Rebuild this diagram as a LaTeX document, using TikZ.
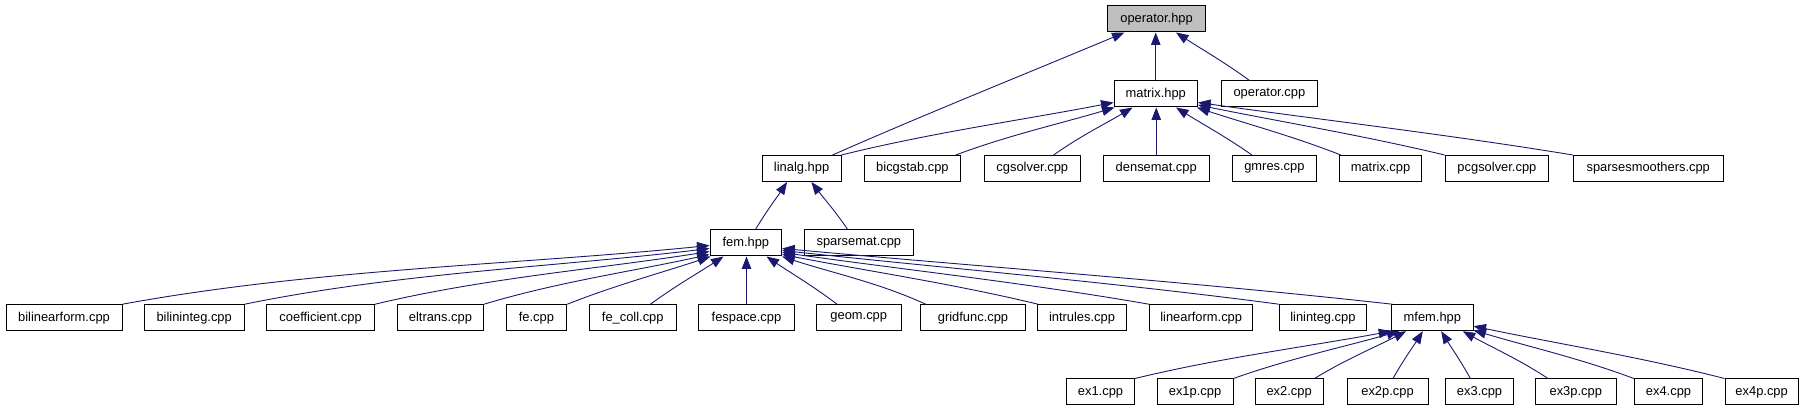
\documentclass[tikz,border=0pt]{standalone}
\usepackage{fontspec}
\setmainfont{Liberation Sans}
\usetikzlibrary{arrows.meta,calc}
\definecolor{edgeblue}{RGB}{25,25,112}
\definecolor{boxgray}{RGB}{191,191,191}
\newcommand{\depedge}[3][0]{%
  \path (#2) coordinate (tmpS) (#3) coordinate (tmpE);
  \draw[depline] (tmpS) .. controls ($(tmpS)!0.33!(tmpE)+(0,-#1)$) and ($(tmpS)!0.67!(tmpE)$) .. (tmpE);}
\begin{document}
\begin{tikzpicture}[x=1pt,y=-1pt,
  box/.style={draw=black, line width=1pt, fill=white, minimum height=26pt, inner sep=0pt,
    font=\fontsize{12.9}{15}\selectfont},
  depline/.style={draw=edgeblue, line width=0.9pt, -{Triangle[length=12.5pt,width=9.5pt]}}]
\useasboundingbox (0,0) rectangle (1805,411);
\fill[white] (0,0) rectangle (1805,411);
% row 1
\node[box, fill=boxgray, minimum width=98.2pt] (ophpp) at (1156.6,19) {operator.hpp};
% row 2
\node[box, minimum width=83.5pt] (mh) at (1155.75,94) {matrix.hpp};
\node[box, minimum width=96.7pt] (opcpp) at (1269.35,94) {operator.cpp};
% row 3
\node[box, minimum width=78.8pt] (la) at (801.6,168.5) {linalg.hpp};
\node[box, minimum width=95.7pt] (bicg) at (912.45,168.5) {bicgstab.cpp};
\node[box, minimum width=96.2pt] (cgs) at (1032.3,168.5) {cgsolver.cpp};
\node[box, minimum width=105.5pt] (dense) at (1156.25,168.5) {densemat.cpp};
\node[box, minimum width=84pt] (gmres) at (1274.4,168.5) {gmres.cpp};
\node[box, minimum width=82.4pt] (mcpp) at (1380.5,168.5) {matrix.cpp};
\node[box, minimum width=103.6pt] (pcg) at (1496.9,168.5) {pcgsolver.cpp};
\node[box, minimum width=149.9pt] (ssm) at (1648.25,168.5) {sparsesmoothers.cpp};
% row 4
\node[box, minimum width=71.7pt] (fem) at (745.85,243) {fem.hpp};
\node[box, minimum width=108.5pt] (spm) at (858.85,243) {sparsemat.cpp};
% row 5
\node[box, minimum width=116pt] (bf) at (64,317.7) {bilinearform.cpp};
\node[box, minimum width=100pt] (bi) at (194.2,317.7) {bilininteg.cpp};
\node[box, minimum width=108pt] (coef) at (320.6,317.7) {coefficient.cpp};
\node[box, minimum width=86.1pt] (eltr) at (440.45,317.7) {eltrans.cpp};
\node[box, minimum width=60.8pt] (fecpp) at (536.4,317.7) {fe.cpp};
\node[box, minimum width=87.5pt] (fecoll) at (632.75,317.7) {fe\_coll.cpp};
\node[box, minimum width=95.4pt] (fesp) at (746.5,317.7) {fespace.cpp};
\node[box, minimum width=84.5pt] (geom) at (858.75,317.7) {geom.cpp};
\node[box, minimum width=105.6pt] (gridf) at (973,317.7) {gridfunc.cpp};
\node[box, minimum width=89pt] (intr) at (1082,317.7) {intrules.cpp};
\node[box, minimum width=103.5pt] (linf) at (1201.2,317.7) {linearform.cpp};
\node[box, minimum width=87.2pt] (lini) at (1322.9,317.7) {lininteg.cpp};
\node[box, minimum width=81.3pt] (mf) at (1432.35,317.7) {mfem.hpp};
% row 6
\node[box, minimum width=68pt] (ex1) at (1100.5,392) {ex1.cpp};
\node[box, minimum width=76pt] (ex1p) at (1195,392) {ex1p.cpp};
\node[box, minimum width=68.3pt] (ex2) at (1289.15,392) {ex2.cpp};
\node[box, minimum width=81pt] (ex2p) at (1387.5,392) {ex2p.cpp};
\node[box, minimum width=68.5pt] (ex3) at (1479.55,392) {ex3.cpp};
\node[box, minimum width=80.5pt] (ex3p) at (1575.75,392) {ex3p.cpp};
\node[box, minimum width=68.4pt] (ex4) at (1668.5,392) {ex4.cpp};
\node[box, minimum width=73.3pt] (ex4p) at (1761.65,392) {ex4p.cpp};
% edges into operator.hpp
\depedge[2]{$(la.north east)+(-9,0)$}{$(ophpp.south west)+(17.5,0)$}
\draw[depline] (mh.north) -- (mh.north |- ophpp.south);
\depedge[2]{$(opcpp.north west)+(29,0)$}{$(ophpp.south west)+(69,0)$}
% edges into matrix.hpp
\depedge[5]{la.north east}{$(mh.south west)+(0,-5)$}
\depedge[4]{$(bicg.north east)+(-5,0)$}{$(mh.south west)+(1,0)$}
\depedge[3]{$(cgs.north west)+(70,0)$}{$(mh.south west)+(19,0)$}
\draw[depline] (dense.north) -- (dense.north |- mh.south);
\depedge[2]{$(gmres.north west)+(20,0)$}{$(mh.south west)+(62.5,0)$}
\depedge[3]{$(mcpp.north west)+(2,0)$}{$(mh.south east)+(-1,0)$}
\depedge[3]{pcg.north west}{$(mh.south east)+(0,-2.5)$}
\depedge[3]{ssm.north west}{$(mh.south east)+(0,-5)$}
% edges into linalg.hpp
\depedge[2]{$(fem.north west)+(46,0)$}{$(la.south west)+(25.4,0)$}
\depedge[2]{$(spm.north west)+(43.6,0)$}{$(la.south west)+(49.7,0)$}
% edges into fem.hpp
\depedge[16]{bf.north east}{$(fem.south west)+(0,-11)$}
\depedge[13]{bi.north east}{$(fem.south west)+(0,-8)$}
\depedge[9]{coef.north east}{$(fem.south west)+(0,-5)$}
\depedge[6]{eltr.north east}{$(fem.south west)+(0,-2)$}
\depedge[3]{fecpp.north east}{$(fem.south west)+(1,0)$}
\depedge[2]{$(fecoll.north west)+(62,0)$}{$(fem.south west)+(14,0)$}
\draw[depline] (fesp.north) -- (fesp.north |- fem.south);
\depedge[2]{$(geom.north west)+(21,0)$}{$(fem.south west)+(57,0)$}
\depedge[6]{$(gridf.north west)+(6,0)$}{fem.south east}
\depedge[4]{$(intr.north west)+(1,0)$}{$(fem.south east)+(0,-2)$}
\depedge[4]{linf.north west}{$(fem.south east)+(0,-4)$}
\depedge[4]{lini.north west}{$(fem.south east)+(0,-6)$}
\depedge[4]{$(mf.north west)+(1,0)$}{$(fem.south east)+(0,-8)$}
% edges into mfem.hpp
\depedge[5]{ex1.north east}{mf.south west}
\depedge[4]{ex1p.north east}{$(mf.south west)+(8,0)$}
\depedge[3]{$(ex2.north west)+(60,0)$}{$(mf.south west)+(15,0)$}
\depedge[2]{$(ex2p.north west)+(46.5,0)$}{$(mf.south west)+(31.6,0)$}
\depedge[2]{$(ex3.north west)+(25.5,0)$}{$(mf.south west)+(50,0)$}
\depedge[3]{$(ex3p.north west)+(13,0)$}{$(mf.south west)+(71.6,0)$}
\depedge[4]{ex4.north west}{$(mf.south east)+(0,-1)$}
\depedge[4]{ex4p.north west}{$(mf.south east)+(0,-5)$}
\end{tikzpicture}
\end{document}
